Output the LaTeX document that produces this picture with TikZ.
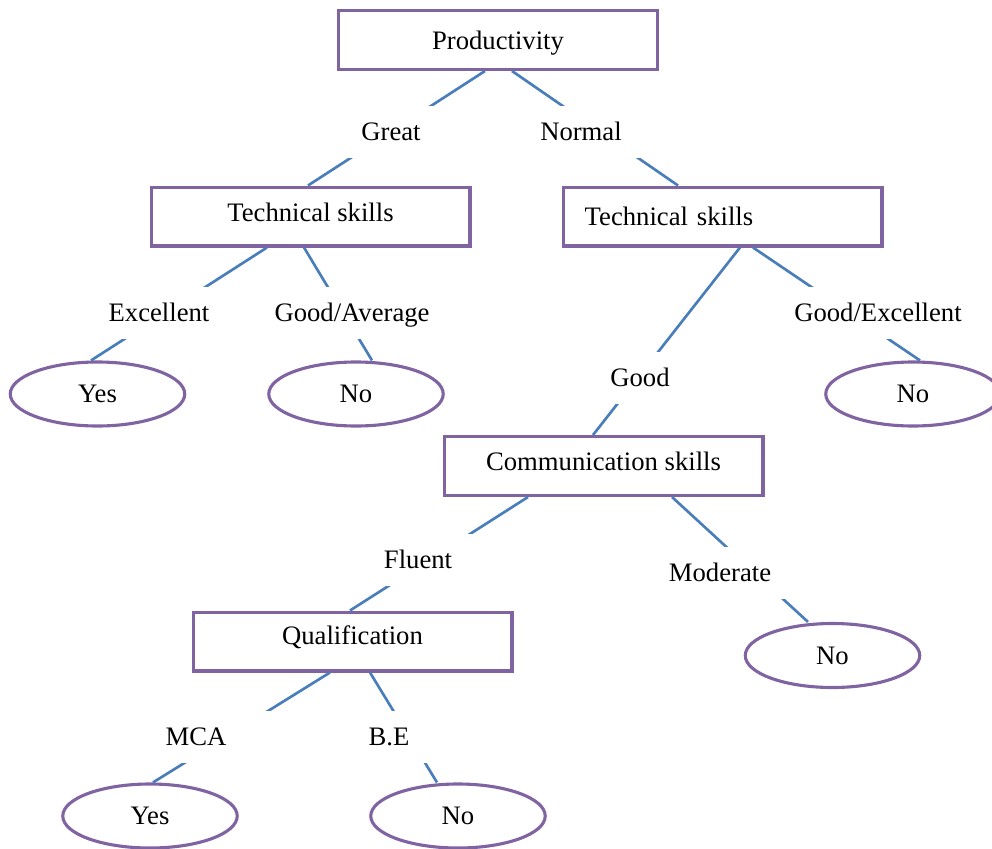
\documentclass[tikz,border=0pt]{standalone}
\usepackage{fontspec}
\setmainfont{Liberation Serif}
\usetikzlibrary{shapes.geometric,calc}

\definecolor{boxpurple}{RGB}{128,100,162}
\definecolor{linkblue}{RGB}{74,126,187}

\begin{document}
\begin{tikzpicture}[x=0.45pt, y=-0.45pt, font=\fontsize{12pt}{14pt}\selectfont,
  txt/.style={text height=7.9pt, text depth=0pt},
  attr/.style={txt, rectangle, draw=boxpurple, line width=1.4pt, minimum width=143.5pt, minimum height=26.5pt, inner sep=0pt},
  leaf/.style={txt, ellipse, draw=boxpurple, line width=1.4pt, minimum width=78.5pt, minimum height=28.8pt, inner sep=0pt},
  branch/.style={draw=linkblue, line width=1.2pt},
  cond/.style={txt, fill=white, minimum width=67.5pt, minimum height=23pt}]

\useasboundingbox (0,0) rectangle (992,849);

\begin{scope}

% attribute boxes
\node [attr, text height=8.8pt] (prod) at (498,40) {Productivity};
\node [attr, text depth=3.6pt] (tech1) at (310.5,216.5) {Technical skills};
\node [attr, text width=124pt, inner xsep=9.75pt, align=left] (tech2) at (722.5,216.5) {Technical skills};
\node [attr, text depth=3.6pt] (comm) at (603.5,466) {Communication skills};
\node [attr, text depth=5pt] (qual) at (352.5,641.5) {Qualification};

% decisions
\node [leaf] (yes1) at (97.5,394) {Yes};
\node [leaf] (no1) at (356,394) {No};
\node [leaf] (no2) at (913,394) {No};
\node [leaf] (no3) at (832.5,655.5) {No};
\node [leaf] (yes2) at (150,816) {Yes};
\node [leaf] (no4) at (458,816) {No};

% branches
\draw [branch] ($(prod.south)+(-13,0)$) -- ($(tech1.north)+(-2.5,0)$);
\draw [branch] ($(prod.south)+(14,0)$) -- ($(tech2.north)+(-44.5,0)$);
\draw [branch] ($(tech1.south)+(-43.5,0)$) -- ($(yes1.north)+(-6.5,0)$);
\draw [branch] ($(tech1.south)+(-6.5,0)$) -- ($(no1.north)+(16,0)$);
\draw [branch] ($(tech2.south)+(17.5,0)$) -- ($(comm.north)+(-10.5,0)$);
\draw [branch] ($(tech2.south)+(30.5,0)$) -- ($(no2.north)+(7,0)$);
\draw [branch] ($(comm.south)+(-75.5,0)$) -- ($(qual.north)+(-2.5,0)$);
\draw [branch] ($(comm.south)+(68.5,0)$) -- ($(no3.north)+(-24.5,0)$);
\draw [branch] ($(qual.south)+(-22.5,0)$) -- ($(yes2.north)+(3,0)$);
\draw [branch] ($(qual.south)+(17.5,0)$) -- ($(no4.north)+(-21,0)$);

% branch labels
\node [cond] (great) at (391,132) {Great};
\node [cond] (normal) at (581,132) {Normal};
\node [cond] (excel) at (159,313) {Excellent};
\node [cond] (goodavg) at (352,313) {Good/Average};
\node [cond] (good) at (640,378) {Good};
\node [cond] (goodexc) at (878,313) {Good/Excellent};
\node [cond] (fluent) at (418,560) {Fluent};
\node [cond] (moderate) at (720,573) {Moderate};
\node [cond] (mca) at (196,737) {MCA};
\node [cond] (be) at (389,737) {B.E};

\end{scope}

\end{tikzpicture}
\end{document}
